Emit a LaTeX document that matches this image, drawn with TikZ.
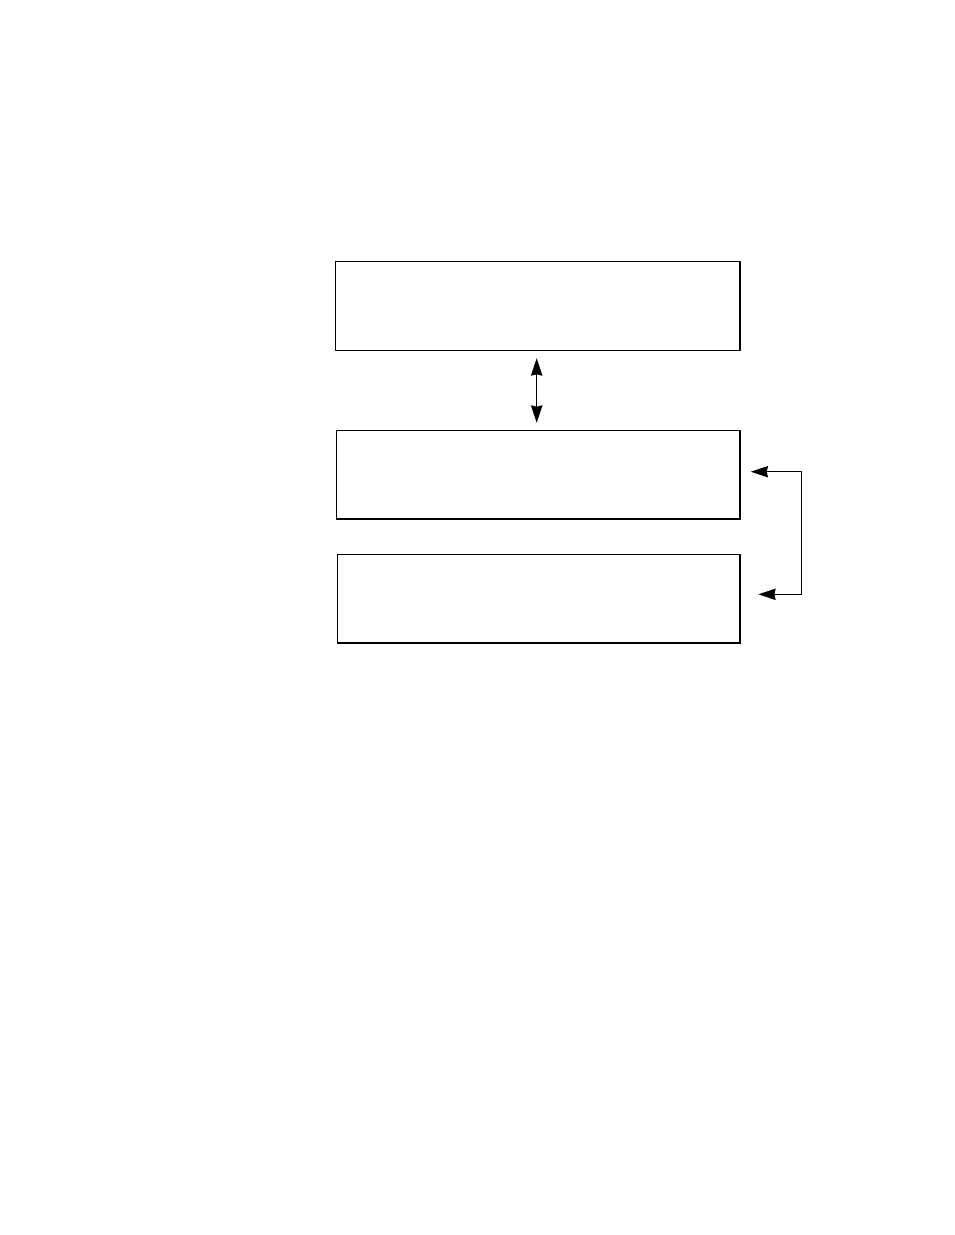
\documentclass[tikz,border=0pt]{standalone}
\usetikzlibrary{arrows.meta}
\begin{document}
\begin{tikzpicture}[x=0.75pt,y=-0.75pt,
  box/.style={draw,line width=0.9pt,rectangle,inner sep=0pt,outer sep=0pt},
  conn/.style={line width=0.9pt},
  tipA/.style={{Stealth[length=13pt,width=8.5pt,inset=1pt]}-{Stealth[length=13pt,width=8.5pt,inset=1pt]}}]
\useasboundingbox (0,0) rectangle (954,1235);
\node[box,minimum width=303.2pt,minimum height=66.5pt] (b1) at (537.9,306) {};
\node[box,minimum width=302.8pt,minimum height=66.5pt] (b2) at (538.2,474.7) {};
\node[box,minimum width=302pt,minimum height=66.5pt] (b3) at (538.7,598.7) {};
\coordinate (u1) at (536.7,358.3);
\coordinate (u2) at (536.7,422.7);
\draw[conn,tipA] (u1) -- (u2);
\coordinate (t1) at (750.7,471.7);
\coordinate (p1) at (801.7,471.7);
\coordinate (p2) at (801.7,594.3);
\coordinate (t2) at (758.3,594.3);
\draw[conn,tipA] (t1) -- (p1) -- (p2) -- (t2);
\end{tikzpicture}
\end{document}
